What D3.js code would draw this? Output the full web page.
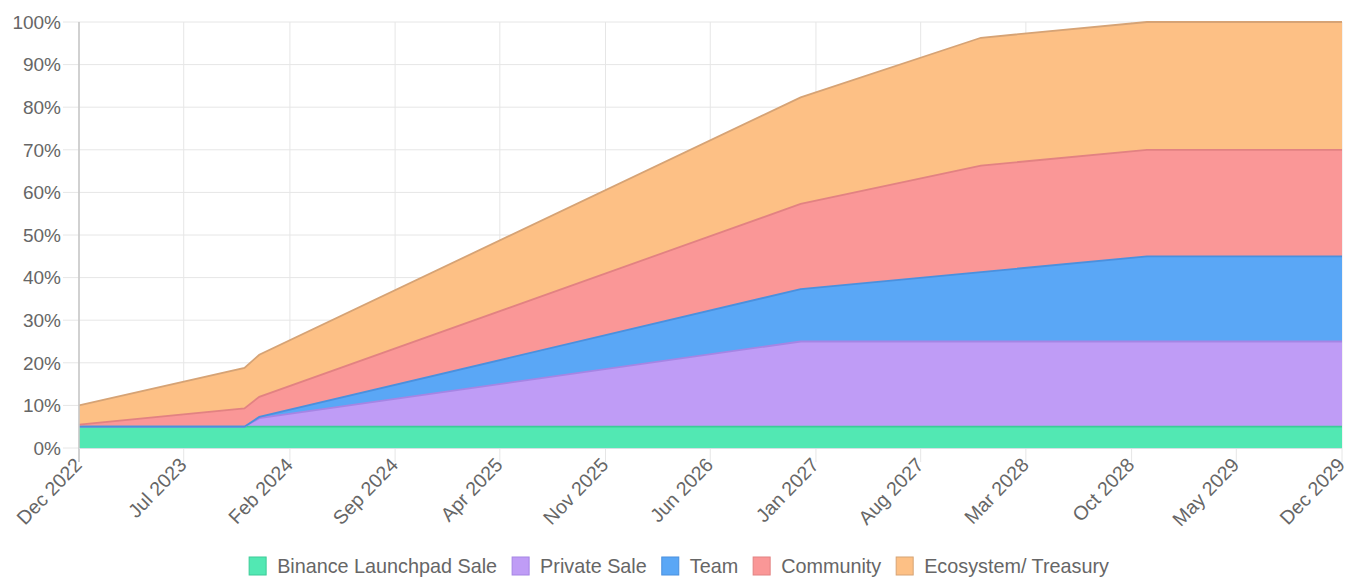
<!DOCTYPE html>
<html>
<head>
<meta charset="utf-8">
<script src="https://cdn.jsdelivr.net/npm/d3@7"></script>
<style>
  body { margin: 0; background: #fff; }
  svg { display: block; font-family: "Liberation Sans", Arial, sans-serif; }
</style>
</head>
<body>
<div id="chart"></div>
<script>
// unlock schedule, cumulative % of supply at each break point (month)
var months = ["2022-12", "2023-11", "2023-12", "2026-12", "2027-12", "2028-11", "2029-12"];
var launchpad = [5, 5, 5, 5, 5, 5, 5];
var privateSale = [0, 0, 2, 20, 20, 20, 20];
var team = [0, 0, 0.3, 12.3, 16.3, 20, 20];
var community = [0.5, 4.3, 4.7, 20, 25, 25, 25];
var ecosystem = [4.5, 9.5, 9.9, 25, 30, 30, 30];

var seriesNames = ["Binance Launchpad Sale", "Private Sale", "Team", "Community", "Ecosystem/ Treasury"];
var xTickLabels = ["Dec 2022", "Jul 2023", "Feb 2024", "Sep 2024", "Apr 2025", "Nov 2025", "Jun 2026",
                   "Jan 2027", "Aug 2027", "Mar 2028", "Oct 2028", "May 2029", "Dec 2029"];
var yTicks = [0, 10, 20, 30, 40, 50, 60, 70, 80, 90, 100];

var fills = ["#52e8b3", "#bf9cf6", "#5aa7f6", "#fa9797", "#fdc085"];
var strokes = ["#3ccb98", "#a585e4", "#4a90de", "#e28282", "#d6a375"];

var W = 1348, H = 577;
var margin = {top: 22, right: 6, bottom: 129, left: 79},
    width = W - margin.left - margin.right,
    height = H - margin.top - margin.bottom;

var parseMonth = d3.timeParse("%Y-%m");
var parseTick = d3.timeParse("%b %Y");

var data = months.map(function(m, i) {
  return {
    date: parseMonth(m),
    s0: launchpad[i], s1: privateSale[i], s2: team[i], s3: community[i], s4: ecosystem[i]
  };
});
var keys = ["s0", "s1", "s2", "s3", "s4"];
var stacked = d3.stack().keys(keys)(data);

var svg = d3.select("#chart").append("svg")
    .attr("width", W)
    .attr("height", H);
var g = svg.append("g")
    .attr("transform", "translate(" + margin.left + "," + margin.top + ")");

var x = d3.scaleTime()
  .domain([parseTick(xTickLabels[0]), parseTick(xTickLabels[xTickLabels.length - 1])])
  .range([0, width]);
var y = d3.scaleLinear()
  .domain([0, 100])
  .range([height, 0]);

var tickDates = xTickLabels.map(parseTick);

// grid
g.append("g").selectAll("line")
  .data(yTicks).enter().append("line")
    .attr("x1", -16).attr("x2", width)
    .attr("y1", function(d) { return y(d); })
    .attr("y2", function(d) { return y(d); })
    .attr("stroke", "#e6e6e6").attr("stroke-width", 1);
g.append("g").selectAll("line")
  .data(tickDates).enter().append("line")
    .attr("x1", function(d) { return x(d); })
    .attr("x2", function(d) { return x(d); })
    .attr("y1", 0).attr("y2", height + 14)
    .attr("stroke", "#e6e6e6").attr("stroke-width", 1);

// areas
var area = d3.area()
  .x(function(d) { return x(d.data.date); })
  .y0(function(d) { return y(d[0]); })
  .y1(function(d) { return y(d[1]); });
var topLine = d3.line()
  .x(function(d) { return x(d.data.date); })
  .y(function(d) { return y(d[1]); });

g.selectAll("path.area")
  .data(stacked).enter().append("path")
    .attr("class", "area")
    .attr("d", area)
    .attr("fill", function(d, i) { return fills[i]; });
g.selectAll("path.border")
  .data(stacked).enter().append("path")
    .attr("class", "border")
    .attr("d", topLine)
    .attr("fill", "none")
    .attr("stroke", function(d, i) { return strokes[i]; })
    .attr("stroke-width", 1.8);

// axis lines
g.append("line")
  .attr("x1", 0).attr("x2", 0).attr("y1", 0).attr("y2", height + 14)
  .attr("stroke", "#c8c8c8").attr("stroke-width", 1.6);
g.append("line")
  .attr("x1", 0).attr("x2", width).attr("y1", height + 0.5).attr("y2", height + 0.5)
  .attr("stroke", "#d6dfe4").attr("stroke-width", 1.2);

// y labels
g.append("g").selectAll("text")
  .data(yTicks).enter().append("text")
    .attr("x", -18)
    .attr("y", function(d) { return y(d); })
    .attr("dy", "0.36em")
    .attr("text-anchor", "end")
    .style("font-size", "19px")
    .style("fill", "#666")
    .text(function(d) { return d + "%"; });

// x labels
g.append("g").selectAll("text")
  .data(xTickLabels).enter().append("text")
    .attr("text-anchor", "end")
    .attr("transform", function(d) {
      return "translate(" + (x(parseTick(d)) - 1) + "," + (height + 13) + ")rotate(-46)";
    })
    .attr("dy", "0.36em")
    .style("font-size", "19.5px")
    .style("fill", "#666")
    .text(function(d) { return d; });

// legend
var legend = svg.append("g").attr("transform", "translate(0,566)");
var items = legend.selectAll("g")
  .data(seriesNames).enter().append("g");
items.append("rect")
  .attr("width", 17).attr("height", 18)
  .attr("y", -9)
  .attr("fill", function(d, i) { return fills[i]; })
  .attr("stroke", function(d, i) { return strokes[i]; })
  .attr("stroke-width", 1);
items.append("text")
  .attr("x", 28)
  .attr("dy", "0.36em")
  .style("font-size", "19.8px")
  .style("fill", "#666")
  .text(function(d) { return d; });

var pos = 0, offsets = [];
items.each(function() {
  offsets.push(pos);
  pos += 28 + this.querySelector("text").getComputedTextLength() + 15;
});
var total = pos - 15;
var startX = 679 - total / 2;
items.attr("transform", function(d, i) { return "translate(" + (startX + offsets[i]) + ",0)"; });
</script>
</body>
</html>
